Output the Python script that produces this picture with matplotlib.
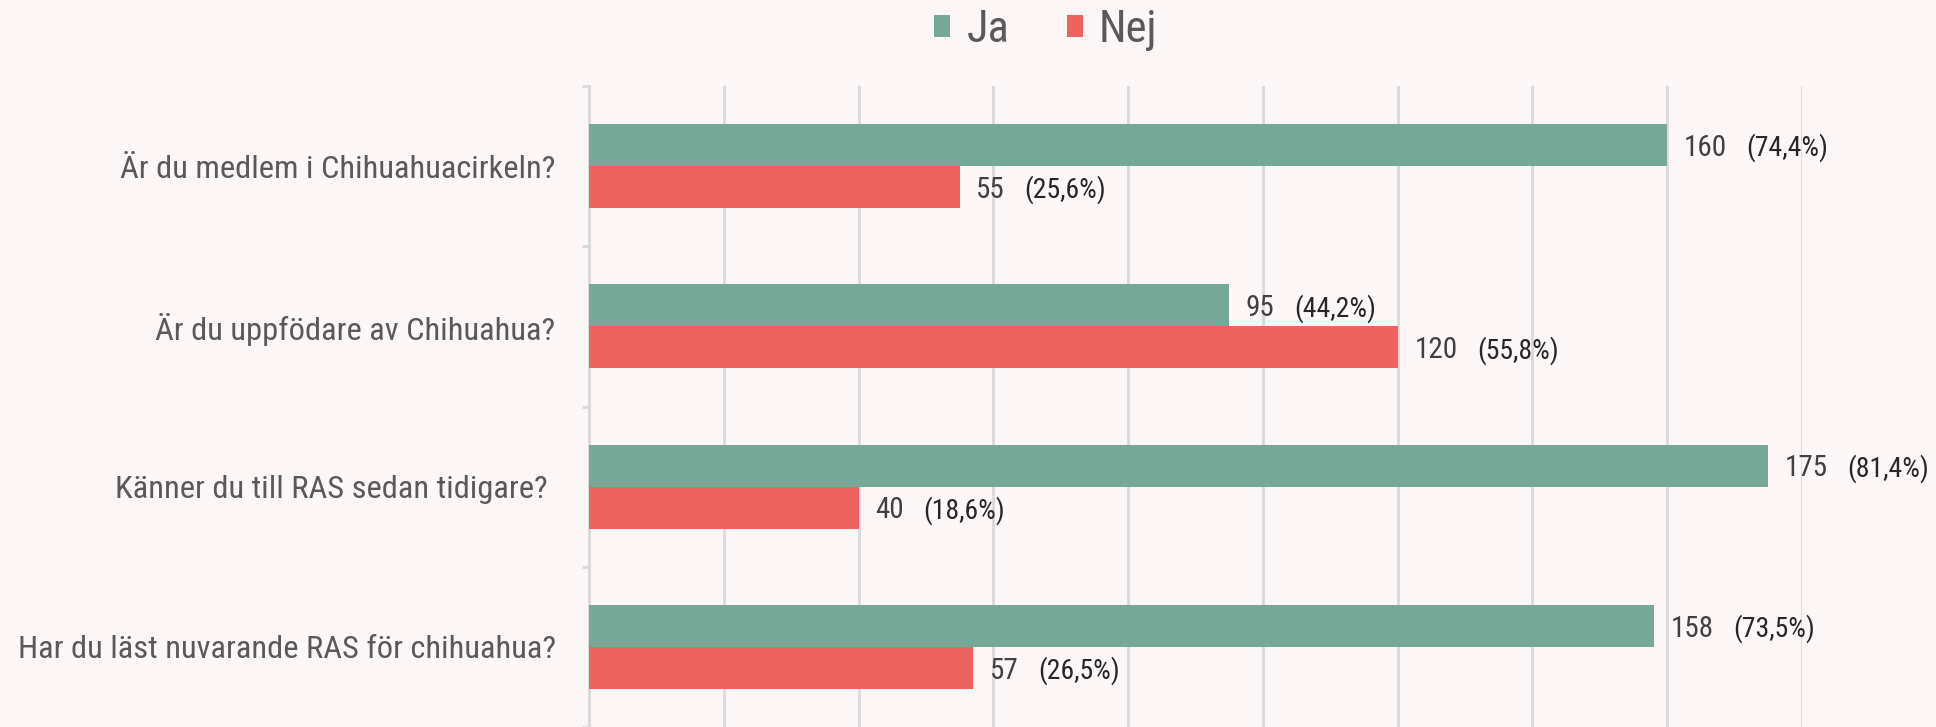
import matplotlib.pyplot as plt
from matplotlib.ticker import FixedLocator, MultipleLocator

questions = [
    "Är du medlem i Chihuahuacirkeln?",
    "Är du uppfödare av Chihuahua?",
    "Känner du till RAS sedan tidigare? ",
    "Har du läst nuvarande RAS för chihuahua?",
]
ja = [160, 95, 175, 158]
nej = [55, 120, 40, 57]
ja_pct = ["(74,4%)", "(44,2%)", "(81,4%)", "(73,5%)"]
nej_pct = ["(25,6%)", "(55,8%)", "(18,6%)", "(26,5%)"]

green = "#76A898"
red = "#EE6260"
bg = "#FCF6F6"
grid = "#D9D9D9"

plt.rcParams['font.family'] = ['Roboto Condensed', 'Liberation Sans Narrow', 'Roboto', 'DejaVu Sans']

fig = plt.figure(figsize=(19.36, 7.27), dpi=100, facecolor=bg)
ax = fig.add_axes([589 / 1936, 0, (1802 - 589) / 1936, 1 - 86 / 727])
ax.set_facecolor(bg)

h = 0.262
pos = list(range(len(questions)))
b1 = ax.barh([p - h / 2 for p in pos], ja, height=h, color=green, label="Ja", zorder=3)
b2 = ax.barh([p + h / 2 for p in pos], nej, height=h, color=red, label="Nej", zorder=3)

ax.set_xlim(0, 180)
ax.set_ylim(3.5, -0.5)
ax.xaxis.set_major_locator(MultipleLocator(20))
ax.grid(axis='x', color=grid, linewidth=2, zorder=0)
ax.tick_params(axis='x', length=0, labelbottom=False)

ax.set_yticks(pos)
ax.set_yticklabels(questions, fontsize=23.4, color="#595959")
ax.tick_params(axis='y', which='major', length=0, pad=24)
ax.yaxis.set_minor_locator(FixedLocator([-0.5, 0.5, 1.5, 2.5, 3.5]))
ax.tick_params(axis='y', which='minor', length=5, width=2, color=grid)

for s in ['top', 'right', 'bottom']:
    ax.spines[s].set_visible(False)
ax.spines['left'].set_color(grid)
ax.spines['left'].set_linewidth(2)

def label(bars, vals, pcts):
    for bar, v, p in zip(bars, vals, pcts):
        y = bar.get_y() + bar.get_height() / 2
        t = ax.annotate(str(v), xy=(v, y), xytext=(12, -2), textcoords='offset points',
                        va='center', ha='left', fontsize=21, color="#404040", zorder=4)
        ax.annotate(p, xy=(1, 0.5), xycoords=t, xytext=(14, 0), textcoords='offset points',
                    va='center', ha='left', fontsize=20, color="#262626", zorder=4)

label(b1, ja, ja_pct)
label(b2, nej, nej_pct)

fig.legend(handles=[b1, b2], loc='center', bbox_to_anchor=(1046 / 1936, 1 - 30 / 727),
           ncol=2, frameon=False, fontsize=32, handlelength=0.36, handleheight=0.36,
           handletextpad=0.36, columnspacing=1.3, labelcolor="#595959")

fig.savefig("out.png", dpi=100, facecolor=bg)
